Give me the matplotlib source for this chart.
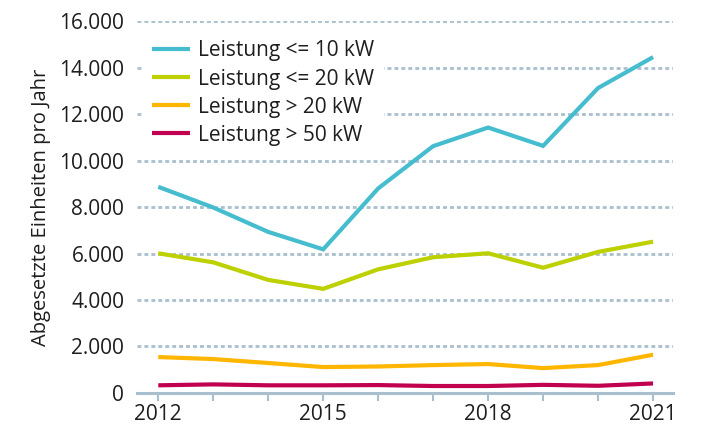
import matplotlib
matplotlib.use("Agg")
import matplotlib.pyplot as plt
from matplotlib.ticker import FuncFormatter, MultipleLocator

plt.rcParams["font.family"] = ["Open Sans", "DejaVu Sans"]

years = [2012, 2013, 2014, 2015, 2016, 2017, 2018, 2019, 2020, 2021]
le_10kw = [8870, 7980, 6930, 6180, 8800, 10620, 11420, 10630, 13120, 14450]
le_20kw = [6010, 5620, 4865, 4480, 5320, 5840, 6010, 5390, 6070, 6510]
gt_20kw = [1545, 1460, 1290, 1115, 1140, 1200, 1245, 1070, 1200, 1645]
gt_50kw = [330, 370, 330, 330, 340, 300, 300, 350, 310, 410]

series = [
    ("Leistung <= 10 kW", le_10kw, "#46bdcf"),
    ("Leistung <= 20 kW", le_20kw, "#bdd000"),
    ("Leistung > 20 kW", gt_20kw, "#ffb600"),
    ("Leistung > 50 kW", gt_50kw, "#c1004f"),
]
xtick_labels = [2012, 2015, 2018, 2021]
grid_color = "#a9bfcd"
text_color = "#1e1e1e"

fig = plt.figure(figsize=(7.09, 4.26), dpi=100)
ax = fig.add_axes([0.193, 0.0775, 0.756, 0.873])

for label, values, color in series:
    ax.plot(years, values, color=color, lw=3.0, label=label,
            solid_capstyle="butt", solid_joinstyle="miter", zorder=3)

ax.set_xlim(2011.61, 2021.36)
ax.set_ylim(0, 16000)

ax.yaxis.set_major_locator(MultipleLocator(2000))
ax.yaxis.set_major_formatter(
    FuncFormatter(lambda v, _: f"{int(v):,}".replace(",", "."))
)
ax.yaxis.grid(True, color=grid_color, lw=2.0, linestyle=(0, (1.4, 1.1)))
ax.set_axisbelow(True)

ax.set_xticks(xtick_labels)
ax.set_xticks(years, minor=True)
ax.tick_params(axis="x", which="both", length=6, width=1.5, color=grid_color,
               direction="out", labelsize=15, pad=2, labelcolor=text_color)
ax.tick_params(axis="y", length=0, labelsize=15, pad=9, labelcolor=text_color)

for side in ("top", "right", "left"):
    ax.spines[side].set_visible(False)
ax.spines["bottom"].set_color(grid_color)
ax.spines["bottom"].set_linewidth(2.2)

ax.set_ylabel("Abgesetzte Einheiten pro Jahr", fontsize=14.5, color=text_color,
              labelpad=6)

leg = ax.legend(loc="upper left", bbox_to_anchor=(0.0, 0.99), frameon=True,
                fontsize=15, handlelength=1.8, handletextpad=0.4,
                labelspacing=0.34, borderpad=0.45, borderaxespad=0.3)
leg.get_frame().set_edgecolor("none")
leg.get_frame().set_facecolor("white")
leg.get_frame().set_alpha(1.0)
for line in leg.get_lines():
    line.set_linewidth(3.0)
for text in leg.get_texts():
    text.set_color(text_color)

fig.savefig("out.png", dpi=100)
